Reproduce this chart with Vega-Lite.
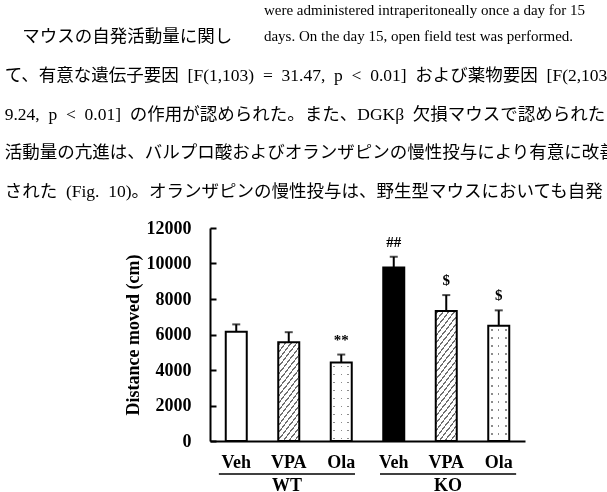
{
  "$schema": "https://vega.github.io/schema/vega-lite/v6.json",
  "width": 315,
  "height": 213,
  "autosize": {"type": "none"},
  "padding": {"left": 210, "top": 228, "right": 82, "bottom": 51},
  "background": "white",
  "config": {
    "view": {"stroke": null},
    "font": "Liberation Serif",
    "axisY": {
      "grid": false, "labelOverlap": false,
      "labelFont": "Liberation Serif", "labelFontSize": 18, "labelFontWeight": "bold", "labelColor": "black",
      "domainColor": "black", "domainWidth": 2, "tickColor": "black", "tickWidth": 2, "tickSize": -6,
      "labelPadding": 25,
      "titleFont": "Liberation Serif", "titleFontSize": 18, "titleFontWeight": "bold", "titleColor": "black", "titlePadding": 4
    }
  },
  "title": {
    "text": [
      "\u2060\u2003\u2003\u2003\u2003\u2003\u2003\u2003\u2003\u2003\u2003\u2003\u2003\u2003\u2003\u2003\u2003\u2003\u2009\u200Awere administered intraperitoneally once a day for 15",
      "\u2060\u2003\u2003\u2003\u2003\u2003\u2003\u2003\u2003\u2003\u2003\u2003\u2003\u2003\u2003\u2003\u2003\u2003\u2009\u200Adays. On the day 15, open field test was performed."
    ],
    "subtitle": [
      "\u2060\u3000マウスの自発活動量に関し",
      "て、有意な遺伝子要因\u2002[F(1,103)\u2002=\u200231.47,\u2002p\u2002<\u20020.01]\u2002および薬物要因\u2002[F(2,103)\u2002=",
      "9.24,\u2002p\u2002<\u20020.01]\u2002の作用が認められた。また、DGKβ\u2002欠損マウスで認められた",
      "活動量の亢進は、バルプロ酸およびオランザピンの慢性投与により有意に改善",
      "された\u2002(Fig.\u200210)。オランザピンの慢性投与は、野生型マウスにおいても自発"
    ],
    "orient": "top",
    "anchor": "start",
    "frame": "group",
    "align": "left",
    "baseline": "top",
    "offset": 0,
    "dx": -205.3,
    "dy": -18.3,
    "font": "Liberation Serif",
    "fontSize": 15,
    "fontWeight": "normal",
    "color": "black",
    "lineHeight": 25.6,
    "subtitleFont": "Liberation Serif, 'Noto Sans CJK JP'",
    "subtitleFontSize": 17.5,
    "subtitleFontWeight": "normal",
    "subtitleColor": "black",
    "subtitleLineHeight": 38.7,
    "subtitlePadding": -15.5
  },
  "datasets": {
    "bars": [
      {"bar": "WT-Veh", "genotype": "WT", "mean": 6150, "upper": 6570, "sig": ""},
      {"bar": "WT-VPA", "genotype": "WT", "mean": 5570, "upper": 6130, "sig": ""},
      {"bar": "WT-Ola", "genotype": "WT", "mean": 4420, "upper": 4870, "sig": "**"},
      {"bar": "KO-Veh", "genotype": "KO", "mean": 9780, "upper": 10380, "sig": "##"},
      {"bar": "KO-VPA", "genotype": "KO", "mean": 7320, "upper": 8220, "sig": "$"},
      {"bar": "KO-Ola", "genotype": "KO", "mean": 6490, "upper": 7360, "sig": "$"}
    ],
    "groups": [
      {"genotype": "WT"},
      {"genotype": "KO"}
    ]
  },
  "layer": [
    {
      "data": {"name": "bars"},
      "encoding": {
        "x": {
          "field": "bar", "type": "nominal",
          "scale": {"domain": ["WT-Veh", "WT-VPA", "WT-Ola", "KO-Veh", "KO-VPA", "KO-Ola"], "paddingInner": 0, "paddingOuter": 0},
          "axis": {
            "orient": "bottom", "title": null, "ticks": false, "domain": true, "domainColor": "black", "domainWidth": 2,
            "labelAngle": 0, "labelFont": "Liberation Serif", "labelFontSize": 18, "labelFontWeight": "bold", "labelColor": "black",
            "labelPadding": 12, "labelExpr": "split(datum.label, '-')[1]"
          }
        }
      },
      "layer": [
        {
          "mark": {"type": "bar", "size": 21},
          "encoding": {
            "y": {"field": "mean", "type": "quantitative", "scale": {"domain": [0, 12000]}, "title": "Distance moved (cm)",
                  "axis": {"values": [0, 2000, 4000, 6000, 8000, 10000, 12000], "format": "d", "labelOverlap": false, "tickCount": 7}},
            "fill": {"field": "bar", "type": "nominal", "legend": null,
                     "scale": {"domain": ["WT-Veh", "WT-VPA", "WT-Ola", "KO-Veh", "KO-VPA", "KO-Ola"], "range": ["white", "white", "white", "black", "white", "white"]}}
          }
        },
        {
          "transform": [{"filter": "datum.bar === 'WT-VPA'"}],
          "mark": {"type": "bar", "size": 21, "fill": {
            "gradient": "linear", "x1": 0, "y1": 0, "x2": 0.41521, "y2": 1.50368,
            "stops": [
              {"offset": 0, "color": "white"},
              {"offset": 0.0125, "color": "white"}, {"offset": 0.0125, "color": "#707070"}, {"offset": 0.025, "color": "#707070"}, {"offset": 0.025, "color": "white"},
              {"offset": 0.058125, "color": "white"}, {"offset": 0.058125, "color": "#707070"}, {"offset": 0.070625, "color": "#707070"}, {"offset": 0.070625, "color": "white"},
              {"offset": 0.10375, "color": "white"}, {"offset": 0.10375, "color": "#707070"}, {"offset": 0.11625, "color": "#707070"}, {"offset": 0.11625, "color": "white"},
              {"offset": 0.149375, "color": "white"}, {"offset": 0.149375, "color": "#707070"}, {"offset": 0.161875, "color": "#707070"}, {"offset": 0.161875, "color": "white"},
              {"offset": 0.195, "color": "white"}, {"offset": 0.195, "color": "#707070"}, {"offset": 0.2075, "color": "#707070"}, {"offset": 0.2075, "color": "white"},
              {"offset": 0.240625, "color": "white"}, {"offset": 0.240625, "color": "#707070"}, {"offset": 0.253125, "color": "#707070"}, {"offset": 0.253125, "color": "white"},
              {"offset": 0.28625, "color": "white"}, {"offset": 0.28625, "color": "#707070"}, {"offset": 0.29875, "color": "#707070"}, {"offset": 0.29875, "color": "white"},
              {"offset": 0.331875, "color": "white"}, {"offset": 0.331875, "color": "#707070"}, {"offset": 0.344375, "color": "#707070"}, {"offset": 0.344375, "color": "white"},
              {"offset": 0.3775, "color": "white"}, {"offset": 0.3775, "color": "#707070"}, {"offset": 0.39, "color": "#707070"}, {"offset": 0.39, "color": "white"},
              {"offset": 0.423125, "color": "white"}, {"offset": 0.423125, "color": "#707070"}, {"offset": 0.435625, "color": "#707070"}, {"offset": 0.435625, "color": "white"},
              {"offset": 0.46875, "color": "white"}, {"offset": 0.46875, "color": "#707070"}, {"offset": 0.48125, "color": "#707070"}, {"offset": 0.48125, "color": "white"},
              {"offset": 0.514375, "color": "white"}, {"offset": 0.514375, "color": "#707070"}, {"offset": 0.526875, "color": "#707070"}, {"offset": 0.526875, "color": "white"},
              {"offset": 0.56, "color": "white"}, {"offset": 0.56, "color": "#707070"}, {"offset": 0.5725, "color": "#707070"}, {"offset": 0.5725, "color": "white"},
              {"offset": 0.605625, "color": "white"}, {"offset": 0.605625, "color": "#707070"}, {"offset": 0.618125, "color": "#707070"}, {"offset": 0.618125, "color": "white"},
              {"offset": 0.65125, "color": "white"}, {"offset": 0.65125, "color": "#707070"}, {"offset": 0.66375, "color": "#707070"}, {"offset": 0.66375, "color": "white"},
              {"offset": 0.696875, "color": "white"}, {"offset": 0.696875, "color": "#707070"}, {"offset": 0.709375, "color": "#707070"}, {"offset": 0.709375, "color": "white"},
              {"offset": 0.7425, "color": "white"}, {"offset": 0.7425, "color": "#707070"}, {"offset": 0.755, "color": "#707070"}, {"offset": 0.755, "color": "white"},
              {"offset": 0.788125, "color": "white"}, {"offset": 0.788125, "color": "#707070"}, {"offset": 0.800625, "color": "#707070"}, {"offset": 0.800625, "color": "white"},
              {"offset": 1, "color": "white"}
            ]}},
          "encoding": {"y": {"field": "mean", "type": "quantitative", "scale": {"domain": [0, 12000]}, "title": "Distance moved (cm)"}}
        },
        {
          "transform": [{"filter": "datum.bar === 'KO-VPA'"}],
          "mark": {"type": "bar", "size": 21, "fill": {
            "gradient": "linear", "x1": 0, "y1": 0, "x2": 0.2478, "y2": 1.17939,
            "stops": [
              {"offset": 0, "color": "white"},
              {"offset": 0.0125, "color": "white"}, {"offset": 0.0125, "color": "#707070"}, {"offset": 0.025, "color": "#707070"}, {"offset": 0.025, "color": "white"},
              {"offset": 0.058125, "color": "white"}, {"offset": 0.058125, "color": "#707070"}, {"offset": 0.070625, "color": "#707070"}, {"offset": 0.070625, "color": "white"},
              {"offset": 0.10375, "color": "white"}, {"offset": 0.10375, "color": "#707070"}, {"offset": 0.11625, "color": "#707070"}, {"offset": 0.11625, "color": "white"},
              {"offset": 0.149375, "color": "white"}, {"offset": 0.149375, "color": "#707070"}, {"offset": 0.161875, "color": "#707070"}, {"offset": 0.161875, "color": "white"},
              {"offset": 0.195, "color": "white"}, {"offset": 0.195, "color": "#707070"}, {"offset": 0.2075, "color": "#707070"}, {"offset": 0.2075, "color": "white"},
              {"offset": 0.240625, "color": "white"}, {"offset": 0.240625, "color": "#707070"}, {"offset": 0.253125, "color": "#707070"}, {"offset": 0.253125, "color": "white"},
              {"offset": 0.28625, "color": "white"}, {"offset": 0.28625, "color": "#707070"}, {"offset": 0.29875, "color": "#707070"}, {"offset": 0.29875, "color": "white"},
              {"offset": 0.331875, "color": "white"}, {"offset": 0.331875, "color": "#707070"}, {"offset": 0.344375, "color": "#707070"}, {"offset": 0.344375, "color": "white"},
              {"offset": 0.3775, "color": "white"}, {"offset": 0.3775, "color": "#707070"}, {"offset": 0.39, "color": "#707070"}, {"offset": 0.39, "color": "white"},
              {"offset": 0.423125, "color": "white"}, {"offset": 0.423125, "color": "#707070"}, {"offset": 0.435625, "color": "#707070"}, {"offset": 0.435625, "color": "white"},
              {"offset": 0.46875, "color": "white"}, {"offset": 0.46875, "color": "#707070"}, {"offset": 0.48125, "color": "#707070"}, {"offset": 0.48125, "color": "white"},
              {"offset": 0.514375, "color": "white"}, {"offset": 0.514375, "color": "#707070"}, {"offset": 0.526875, "color": "#707070"}, {"offset": 0.526875, "color": "white"},
              {"offset": 0.56, "color": "white"}, {"offset": 0.56, "color": "#707070"}, {"offset": 0.5725, "color": "#707070"}, {"offset": 0.5725, "color": "white"},
              {"offset": 0.605625, "color": "white"}, {"offset": 0.605625, "color": "#707070"}, {"offset": 0.618125, "color": "#707070"}, {"offset": 0.618125, "color": "white"},
              {"offset": 0.65125, "color": "white"}, {"offset": 0.65125, "color": "#707070"}, {"offset": 0.66375, "color": "#707070"}, {"offset": 0.66375, "color": "white"},
              {"offset": 0.696875, "color": "white"}, {"offset": 0.696875, "color": "#707070"}, {"offset": 0.709375, "color": "#707070"}, {"offset": 0.709375, "color": "white"},
              {"offset": 0.7425, "color": "white"}, {"offset": 0.7425, "color": "#707070"}, {"offset": 0.755, "color": "#707070"}, {"offset": 0.755, "color": "white"},
              {"offset": 0.788125, "color": "white"}, {"offset": 0.788125, "color": "#707070"}, {"offset": 0.800625, "color": "#707070"}, {"offset": 0.800625, "color": "white"},
              {"offset": 0.83375, "color": "white"}, {"offset": 0.83375, "color": "#707070"}, {"offset": 0.84625, "color": "#707070"}, {"offset": 0.84625, "color": "white"},
              {"offset": 0.879375, "color": "white"}, {"offset": 0.879375, "color": "#707070"}, {"offset": 0.891875, "color": "#707070"}, {"offset": 0.891875, "color": "white"},
              {"offset": 0.925, "color": "white"}, {"offset": 0.925, "color": "#707070"}, {"offset": 0.9375, "color": "#707070"}, {"offset": 0.9375, "color": "white"},
              {"offset": 0.970625, "color": "white"}, {"offset": 0.970625, "color": "#707070"}, {"offset": 0.983125, "color": "#707070"}, {"offset": 0.983125, "color": "white"},
              {"offset": 1, "color": "white"}
            ]}},
          "encoding": {"y": {"field": "mean", "type": "quantitative", "scale": {"domain": [0, 12000]}, "title": "Distance moved (cm)"}}
        },
        {
          "transform": [{"filter": {"field": "bar", "oneOf": ["WT-Ola", "KO-Ola"]}}],
          "mark": {"type": "bar", "size": 21, "fill": {
            "gradient": "linear", "x1": 0, "y1": 0, "x2": 1, "y2": 0,
            "stops": [
              {"offset": 0, "color": "white"},
              {"offset": 0.130952, "color": "white"}, {"offset": 0.130952, "color": "#8c8c8c"}, {"offset": 0.202381, "color": "#8c8c8c"}, {"offset": 0.202381, "color": "white"},
              {"offset": 0.464286, "color": "white"}, {"offset": 0.464286, "color": "#8c8c8c"}, {"offset": 0.535714, "color": "#8c8c8c"}, {"offset": 0.535714, "color": "white"},
              {"offset": 0.797619, "color": "white"}, {"offset": 0.797619, "color": "#8c8c8c"}, {"offset": 0.869048, "color": "#8c8c8c"}, {"offset": 0.869048, "color": "white"},
              {"offset": 1, "color": "white"}
            ]}},
          "encoding": {"y": {"field": "mean", "type": "quantitative", "scale": {"domain": [0, 12000]}, "title": "Distance moved (cm)"}}
        },
        {
          "transform": [{"filter": "datum.bar === 'WT-Ola'"}],
          "mark": {"type": "bar", "size": 21, "blend": "lighten", "fill": {
            "gradient": "linear", "x1": 0, "y1": 0, "x2": 0, "y2": 1.52954,
            "stops": [
              {"offset": 0, "color": "white"},
              {"offset": 0.027083, "color": "white"}, {"offset": 0.027083, "color": "#8c8c8c"}, {"offset": 0.039583, "color": "#8c8c8c"}, {"offset": 0.039583, "color": "white"},
              {"offset": 0.09375, "color": "white"}, {"offset": 0.09375, "color": "#8c8c8c"}, {"offset": 0.10625, "color": "#8c8c8c"}, {"offset": 0.10625, "color": "white"},
              {"offset": 0.160417, "color": "white"}, {"offset": 0.160417, "color": "#8c8c8c"}, {"offset": 0.172917, "color": "#8c8c8c"}, {"offset": 0.172917, "color": "white"},
              {"offset": 0.227083, "color": "white"}, {"offset": 0.227083, "color": "#8c8c8c"}, {"offset": 0.239583, "color": "#8c8c8c"}, {"offset": 0.239583, "color": "white"},
              {"offset": 0.29375, "color": "white"}, {"offset": 0.29375, "color": "#8c8c8c"}, {"offset": 0.30625, "color": "#8c8c8c"}, {"offset": 0.30625, "color": "white"},
              {"offset": 0.360417, "color": "white"}, {"offset": 0.360417, "color": "#8c8c8c"}, {"offset": 0.372917, "color": "#8c8c8c"}, {"offset": 0.372917, "color": "white"},
              {"offset": 0.427083, "color": "white"}, {"offset": 0.427083, "color": "#8c8c8c"}, {"offset": 0.439583, "color": "#8c8c8c"}, {"offset": 0.439583, "color": "white"},
              {"offset": 0.49375, "color": "white"}, {"offset": 0.49375, "color": "#8c8c8c"}, {"offset": 0.50625, "color": "#8c8c8c"}, {"offset": 0.50625, "color": "white"},
              {"offset": 0.560417, "color": "white"}, {"offset": 0.560417, "color": "#8c8c8c"}, {"offset": 0.572917, "color": "#8c8c8c"}, {"offset": 0.572917, "color": "white"},
              {"offset": 0.627083, "color": "white"}, {"offset": 0.627083, "color": "#8c8c8c"}, {"offset": 0.639583, "color": "#8c8c8c"}, {"offset": 0.639583, "color": "white"},
              {"offset": 1, "color": "white"}
            ]}},
          "encoding": {"y": {"field": "mean", "type": "quantitative", "scale": {"domain": [0, 12000]}, "title": "Distance moved (cm)"}}
        },
        {
          "transform": [{"filter": "datum.bar === 'KO-Ola'"}],
          "mark": {"type": "bar", "size": 21, "blend": "lighten", "fill": {
            "gradient": "linear", "x1": 0, "y1": 0, "x2": 0, "y2": 1.04169,
            "stops": [
              {"offset": 0, "color": "white"},
              {"offset": 0.027083, "color": "white"}, {"offset": 0.027083, "color": "#8c8c8c"}, {"offset": 0.039583, "color": "#8c8c8c"}, {"offset": 0.039583, "color": "white"},
              {"offset": 0.09375, "color": "white"}, {"offset": 0.09375, "color": "#8c8c8c"}, {"offset": 0.10625, "color": "#8c8c8c"}, {"offset": 0.10625, "color": "white"},
              {"offset": 0.160417, "color": "white"}, {"offset": 0.160417, "color": "#8c8c8c"}, {"offset": 0.172917, "color": "#8c8c8c"}, {"offset": 0.172917, "color": "white"},
              {"offset": 0.227083, "color": "white"}, {"offset": 0.227083, "color": "#8c8c8c"}, {"offset": 0.239583, "color": "#8c8c8c"}, {"offset": 0.239583, "color": "white"},
              {"offset": 0.29375, "color": "white"}, {"offset": 0.29375, "color": "#8c8c8c"}, {"offset": 0.30625, "color": "#8c8c8c"}, {"offset": 0.30625, "color": "white"},
              {"offset": 0.360417, "color": "white"}, {"offset": 0.360417, "color": "#8c8c8c"}, {"offset": 0.372917, "color": "#8c8c8c"}, {"offset": 0.372917, "color": "white"},
              {"offset": 0.427083, "color": "white"}, {"offset": 0.427083, "color": "#8c8c8c"}, {"offset": 0.439583, "color": "#8c8c8c"}, {"offset": 0.439583, "color": "white"},
              {"offset": 0.49375, "color": "white"}, {"offset": 0.49375, "color": "#8c8c8c"}, {"offset": 0.50625, "color": "#8c8c8c"}, {"offset": 0.50625, "color": "white"},
              {"offset": 0.560417, "color": "white"}, {"offset": 0.560417, "color": "#8c8c8c"}, {"offset": 0.572917, "color": "#8c8c8c"}, {"offset": 0.572917, "color": "white"},
              {"offset": 0.627083, "color": "white"}, {"offset": 0.627083, "color": "#8c8c8c"}, {"offset": 0.639583, "color": "#8c8c8c"}, {"offset": 0.639583, "color": "white"},
              {"offset": 0.69375, "color": "white"}, {"offset": 0.69375, "color": "#8c8c8c"}, {"offset": 0.70625, "color": "#8c8c8c"}, {"offset": 0.70625, "color": "white"},
              {"offset": 0.760417, "color": "white"}, {"offset": 0.760417, "color": "#8c8c8c"}, {"offset": 0.772917, "color": "#8c8c8c"}, {"offset": 0.772917, "color": "white"},
              {"offset": 0.827083, "color": "white"}, {"offset": 0.827083, "color": "#8c8c8c"}, {"offset": 0.839583, "color": "#8c8c8c"}, {"offset": 0.839583, "color": "white"},
              {"offset": 0.89375, "color": "white"}, {"offset": 0.89375, "color": "#8c8c8c"}, {"offset": 0.90625, "color": "#8c8c8c"}, {"offset": 0.90625, "color": "white"},
              {"offset": 1, "color": "white"}
            ]}},
          "encoding": {"y": {"field": "mean", "type": "quantitative", "scale": {"domain": [0, 12000]}, "title": "Distance moved (cm)"}}
        },
        {
          "mark": {"type": "bar", "size": 21, "fillOpacity": 0, "stroke": "black", "strokeWidth": 2},
          "encoding": {"y": {"field": "mean", "type": "quantitative", "scale": {"domain": [0, 12000]}, "title": "Distance moved (cm)"}}
        },
        {
          "mark": {"type": "rule", "color": "black", "strokeWidth": 2},
          "encoding": {
            "y": {"field": "mean", "type": "quantitative", "scale": {"domain": [0, 12000]}, "title": "Distance moved (cm)"},
            "y2": {"field": "upper"}
          }
        },
        {
          "mark": {"type": "tick", "orient": "horizontal", "size": 8, "thickness": 2, "color": "black"},
          "encoding": {"y": {"field": "upper", "type": "quantitative", "scale": {"domain": [0, 12000]}, "title": "Distance moved (cm)"}}
        },
        {
          "transform": [{"filter": "datum.sig !== ''"}],
          "mark": {"type": "text", "baseline": "alphabetic", "dy": -10, "font": "Liberation Serif", "fontSize": 15, "fontWeight": "bold", "color": "black"},
          "encoding": {
            "y": {"field": "upper", "type": "quantitative", "scale": {"domain": [0, 12000]}, "title": "Distance moved (cm)"},
            "text": {"field": "sig"}
          }
        }
      ]
    },
    {
      "data": {"name": "groups"},
      "mark": {"type": "bar", "color": "black"},
      "encoding": {
        "x": {
          "field": "genotype", "type": "nominal",
          "scale": {"domain": ["WT", "KO"], "paddingInner": 0.155, "paddingOuter": 0.055},
          "axis": {
            "orient": "bottom", "title": null, "ticks": false, "domain": false,
            "labelAngle": 0, "labelFont": "Liberation Serif", "labelFontSize": 18, "labelFontWeight": "bold", "labelColor": "black",
            "labelPadding": 35
          }
        },
        "y": {"datum": -1820, "type": "quantitative", "scale": {"domain": [0, 12000]}, "title": "Distance moved (cm)"},
        "y2": {"datum": -1905}
      }
    }
  ],
  "resolve": {"scale": {"x": "independent"}, "axis": {"x": "independent"}}
}
